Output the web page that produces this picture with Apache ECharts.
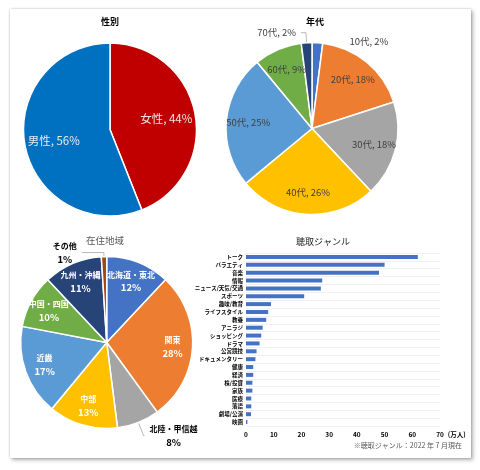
<!DOCTYPE html>
<html><head><meta charset="utf-8">
<script src="https://cdn.jsdelivr.net/npm/echarts@6/dist/echarts.min.js"></script>
<style>
html,body{margin:0;padding:0;background:#fff;width:480px;height:470px;overflow:hidden}
#card{position:absolute;left:10px;top:9px;width:461px;height:449px;background:#fff;box-shadow:0 0 2px rgba(0,0,0,.25),2px 2px 4px rgba(0,0,0,.3)}
#c{position:absolute;left:0;top:0;width:480px;height:470px}
</style></head><body>
<div id="card"></div><div id="c"></div>
<script>
const genderNames = ['女性', '男性'];
const genderValues = [44, 56];
const genderColors = ['#C00000', '#0070C0'];

const ageNames = ['10代', '20代', '30代', '40代', '50代', '60代', '70代'];
const ageValues = [2, 18, 18, 26, 25, 9, 2];
const ageColors = ['#4472C4', '#ED7D31', '#A5A5A5', '#FFC000', '#5B9BD5', '#70AD47', '#264478'];

const regionNames = ['北海道・東北', '関東', '北陸・甲信越', '中部', '近畿', '中国・四国', '九州・沖縄', 'その他'];
const regionValues = [12, 28, 8, 13, 17, 10, 11, 1];
const regionColors = ['#4472C4', '#ED7D31', '#A5A5A5', '#FFC000', '#5B9BD5', '#70AD47', '#264478', '#9E480E'];

const genreNames = ['トーク', 'バラエティ', '音楽', '情報', 'ニュース/天気/交通', 'スポーツ', '趣味/教育', 'ライフスタイル', '教養', 'アニラジ', 'ショッピング', 'ドラマ', '公営競技', 'ドキュメンタリー', '健康', '経済', '株/投資', '家族', '医療', '落語', '劇場/公演', '映画'];
const genreValues = [62, 50, 48, 27.5, 27, 21, 9, 8, 7.3, 6, 5.5, 4.9, 3.8, 3.4, 2.6, 2.6, 2.3, 2.3, 1.9, 1.9, 1.8, 0.5];
const genreTicks = [0, 10, 20, 30, 40, 50, 60, 70];
const genreUnit = '(万人)';
const footnote = '※聴取ジャンル：2022 年 7 月現在';

const FONT = "'Noto Sans CJK JP', 'Noto Sans', sans-serif";

function pieData(names, values, colors) {
  return names.map((n, i) => ({ name: n, value: values[i], itemStyle: { color: colors[i] } }));
}
function ghostData(names, values, extra) {
  return names.map((n, i) => Object.assign({ name: n, value: values[i] }, extra[i] || {}));
}
const ghostStyle = { color: 'rgba(0,0,0,0)', borderWidth: 0 };

const ageExtra = {
  0: { label: { position: 'outside' }, labelLine: { show: false, length: 1, length2: 27 } },
  6: { label: { position: 'outside' }, labelLine: { show: true, length: 10, length2: 5, lineStyle: { color: '#a6a6a6', width: 0.8 } } }
};
const regionExtra = {
  2: { label: { position: 'outside', color: '#000', formatter: '{n|{b}}\n{p|{c}%}' }, labelLine: { show: true, length: 14, length2: 1, lineStyle: { color: '#a6a6a6', width: 0.8 } } },
  7: { label: { position: 'outside', color: '#000', formatter: '{n|{b}}\n{p|{c}%}' }, labelLine: { show: true, length: 4, length2: 22, lineStyle: { color: '#a6a6a6', width: 0.8 } } }
};

const chart = echarts.init(document.getElementById('c'), null, { renderer: 'canvas' });
chart.setOption({
  animation: false,
  backgroundColor: 'transparent',
  textStyle: { fontFamily: FONT },
  title: [
    { text: '性別', left: 110, top: 17, textAlign: 'center', padding: 0, textStyle: { fontSize: 9, fontWeight: 'bold', color: '#000', fontFamily: FONT } },
    { text: '年代', left: 315, top: 17, textAlign: 'center', padding: 0, textStyle: { fontSize: 9, fontWeight: 'bold', color: '#000', fontFamily: FONT } },
    { text: '在住地域', left: 105, top: 236, textAlign: 'center', padding: 0, textStyle: { fontSize: 9.5, fontWeight: 'normal', color: '#595959', fontFamily: FONT } },
    { text: '聴取ジャンル', left: 323, top: 237, textAlign: 'center', padding: 0, textStyle: { fontSize: 9, fontWeight: 'normal', color: '#1a1a1a', fontFamily: FONT } },
    { text: footnote, left: 462, top: 442, textAlign: 'right', padding: 0, textStyle: { fontSize: 7, fontWeight: 'normal', color: '#595959', fontFamily: FONT } }
  ],
  grid: { left: 246, right: 40, top: 253, bottom: 44 },
  xAxis: {
    type: 'value', min: genreTicks[0], max: genreTicks[genreTicks.length - 1], interval: 10,
    axisLine: { show: false }, axisTick: { show: false }, splitLine: { show: false },
    axisLabel: { fontSize: 6.5, fontWeight: 'bold', color: '#000', margin: 5, fontFamily: FONT },
    name: genreUnit, nameLocation: 'end', nameGap: 2,
    nameTextStyle: { fontSize: 6.5, fontWeight: 'bold', color: '#000', verticalAlign: 'top', padding: [5, 0, 0, 0], fontFamily: FONT }
  },
  yAxis: {
    type: 'category', data: genreNames, inverse: true,
    axisLine: { show: false }, axisTick: { show: false },
    splitLine: { show: true, lineStyle: { color: '#ececec', width: 0.8 } },
    axisLabel: { fontSize: 5.5, fontWeight: 'bold', color: '#000', margin: 3, interval: 0, fontFamily: FONT }
  },
  series: [
    { type: 'bar', data: genreValues, barWidth: 4, itemStyle: { color: '#4472C4' }, silent: true },

    { type: 'pie', center: [110, 129.5], radius: [0, 86.5], startAngle: 90, silent: true,
      data: pieData(genderNames, genderValues, genderColors),
      itemStyle: { borderColor: '#fff', borderWidth: 1.5 }, label: { show: false }, labelLine: { show: false } },
    { type: 'pie', center: [110, 129.5], radius: [22, 86.5], startAngle: 90, silent: true, avoidLabelOverlap: false,
      data: ghostData(genderNames, genderValues, {}), itemStyle: ghostStyle,
      label: { show: true, position: 'inside', formatter: '{b}, {c}%', fontSize: 11.5, color: '#e8e8e8', fontFamily: FONT }, labelLine: { show: false } },

    { type: 'pie', center: [312, 128.5], radius: [0, 86], startAngle: 90, silent: true,
      data: pieData(ageNames, ageValues, ageColors),
      itemStyle: { borderColor: '#fff', borderWidth: 1.5 }, label: { show: false }, labelLine: { show: false } },
    { type: 'pie', center: [312, 128.5], radius: [36, 86], startAngle: 90, silent: true, avoidLabelOverlap: false,
      data: ghostData(ageNames, ageValues, ageExtra), itemStyle: ghostStyle,
      label: { show: true, position: 'inside', formatter: '{b}, {c}%', fontSize: 9.5, color: '#404040', fontFamily: FONT }, labelLine: { show: false } },

    { type: 'pie', center: [106.7, 342.5], radius: [0, 86], startAngle: 90, silent: true,
      data: pieData(regionNames, regionValues, regionColors),
      itemStyle: { borderColor: '#fff', borderWidth: 1.5 }, label: { show: false }, labelLine: { show: false } },
    { type: 'pie', center: [106.7, 342.5], radius: [40, 86], startAngle: 90, silent: true, avoidLabelOverlap: false,
      data: ghostData(regionNames, regionValues, regionExtra), itemStyle: ghostStyle,
      label: { show: true, position: 'inside', formatter: '{n|{b}}\n{p|{c}%}', color: '#fff', fontFamily: FONT,
        rich: { n: { fontSize: 8, fontWeight: 'bold', lineHeight: 13, align: 'center', fontFamily: FONT },
                p: { fontSize: 9.5, fontWeight: 'bold', lineHeight: 13, align: 'center', fontFamily: FONT } } },
      labelLine: { show: false } }
  ]
});
</script>
</body></html>
